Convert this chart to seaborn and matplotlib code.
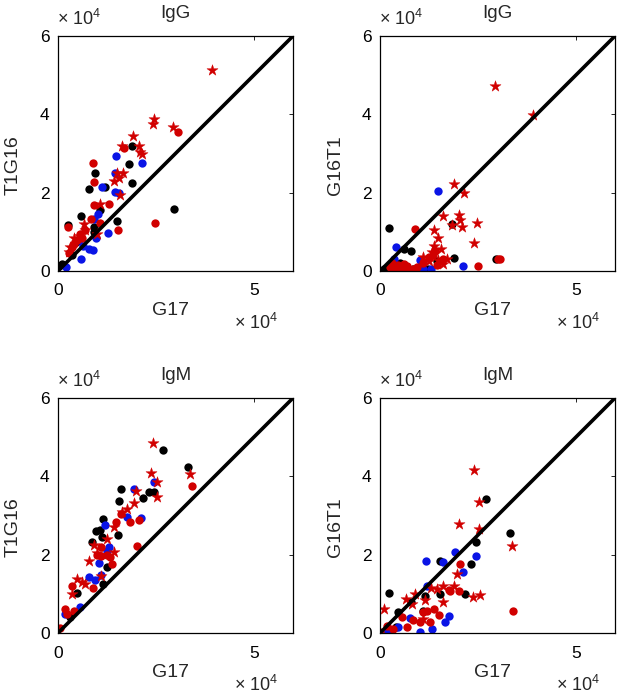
import numpy as np
import pandas as pd
import seaborn as sns
import matplotlib.pyplot as plt

# values in units of 1e4
# 1. IgG, T1G16 vs G17
p1_star_x = [3.94, 2.44, 2.42, 2.93, 1.91, 1.63, 2.06, 2.10, 2.14, 1.51, 1.65, 1.55, 1.59, 1.42, 1.08, 0.66, 0.40, 0.31, 0.27, 1.00, 0.55, 0.70]
p1_star_y = [5.14, 3.87, 3.76, 3.68, 3.45, 3.19, 3.19, 3.04, 2.98, 2.49, 2.49, 2.38, 1.93, 2.31, 1.70, 1.21, 0.83, 0.61, 0.48, 0.95, 0.90, 1.05]
p1_red_x = [3.07, 0.89, 1.68, 0.91, 0.92, 1.29, 0.25, 2.48, 1.53, 0.57, 0.70, 0.48, 0.27, 0.83, 1.08, 0.40, 0.62, 0.35]
p1_red_y = [3.55, 2.77, 3.14, 2.27, 1.68, 1.72, 1.12, 1.23, 1.04, 0.95, 1.04, 0.78, 0.45, 1.33, 1.22, 0.70, 0.85, 0.60]
p1_blk_x = [2.97, 1.81, 1.88, 0.95, 0.78, 1.21, 0.59, 1.51, 0.26, 0.91, 0.92, 0.02, 0.10, 1.89, 1.08, 0.45, 0.35]
p1_blk_y = [1.59, 2.74, 2.25, 2.49, 2.09, 2.14, 1.40, 1.27, 1.17, 1.12, 1.00, 0.14, 0.19, 3.20, 1.55, 0.75, 0.40]
p1_blu_x = [1.49, 2.14, 1.46, 1.45, 1.12, 1.01, 0.91, 1.27, 0.98, 0.89, 0.78, 0.59, 0.20, 0.53, 1.55, 0.65]
p1_blu_y = [2.93, 2.76, 2.50, 2.02, 2.14, 1.46, 1.33, 0.98, 0.84, 0.53, 0.57, 0.31, 0.10, 0.78, 2.00, 0.65]

# 2. IgG, G16T1 vs G17
p2_star_x = [2.94, 3.91, 1.89, 2.14, 1.62, 2.02, 2.04, 2.09, 2.47, 1.85, 1.38, 1.49, 2.40, 1.38, 1.57, 1.32, 1.11, 1.49, 1.62, 1.70, 1.25]
p2_star_y = [4.72, 3.99, 2.23, 2.00, 1.40, 1.44, 1.31, 1.12, 1.23, 1.17, 1.04, 0.85, 0.71, 0.63, 0.57, 0.49, 0.36, 0.27, 0.19, 0.30, 0.25]
p2_red_x = [0.89, 3.06, 3.00, 2.49, 0.25, 0.35, 0.45, 0.55, 0.70, 0.85, 0.95, 1.10, 1.35, 1.45, 1.60, 0.30, 0.60, 1.25, 1.40, 0.40, 0.75]
p2_red_y = [1.08, 0.31, 0.31, 0.14, 0.10, 0.05, 0.15, 0.08, 0.12, 0.05, 0.10, 0.20, 0.40, 0.15, 0.30, 0.20, 0.18, 0.35, 0.50, 0.00, 0.05]
p2_blk_x = [0.24, 1.83, 0.78, 0.61, 1.90, 2.95, 1.23, 0.10, 0.85, 0.50, 1.05, 1.45]
p2_blk_y = [1.10, 1.21, 0.51, 0.57, 0.34, 0.31, 0.06, 0.05, 0.05, 0.20, 0.10, 0.25]
p2_blu_x = [1.49, 0.41, 2.13, 1.02, 1.10, 0.35, 0.65, 1.30]
p2_blu_y = [2.04, 0.61, 0.14, 0.27, 0.06, 0.30, 0.10, 0.05]

# 3. IgM, T1G16 vs G17
p3_star_x = [2.42, 2.37, 3.38, 2.54, 2.54, 1.98, 1.94, 1.77, 1.64, 0.79, 1.43, 1.25, 0.92, 1.43, 0.61, 0.36, 0.48, 1.10, 1.00, 0.70]
p3_star_y = [4.85, 4.09, 4.05, 3.86, 3.48, 3.63, 3.33, 3.16, 3.08, 1.83, 2.70, 2.40, 2.24, 2.07, 1.30, 1.00, 1.38, 1.45, 2.05, 1.25]
p3_red_x = [3.41, 2.01, 1.38, 1.47, 1.84, 2.07, 1.00, 1.09, 1.26, 1.34, 0.90, 0.36, 0.19, 0.23, 0.40, 0.06, 1.10, 1.60]
p3_red_y = [3.75, 2.22, 1.77, 2.84, 2.84, 2.88, 2.00, 1.97, 2.00, 1.93, 1.15, 1.21, 0.61, 0.49, 0.57, 0.13, 2.20, 3.05]
p3_blk_x = [2.69, 3.33, 1.62, 1.55, 2.18, 2.33, 2.46, 1.15, 0.96, 1.08, 0.87, 1.13, 1.26, 1.54, 1.16, 0.49, 0.30]
p3_blk_y = [4.67, 4.23, 3.68, 3.38, 3.45, 3.60, 3.60, 2.91, 2.61, 2.63, 2.33, 2.45, 1.68, 2.49, 1.25, 1.02, 0.40]
p3_blu_x = [1.94, 2.46, 2.11, 1.77, 1.21, 1.30, 1.05, 0.79, 1.09, 0.55, 0.19, 1.25, 0.95]
p3_blu_y = [3.68, 3.85, 2.93, 2.97, 2.75, 2.19, 1.80, 1.43, 1.47, 0.66, 0.49, 2.10, 1.35]

# 4. IgM, G16T1 vs G17
p4_star_x = [2.41, 2.52, 2.01, 2.52, 3.37, 1.97, 2.56, 2.38, 1.88, 1.62, 1.45, 0.09, 0.66, 0.90, 0.81, 1.15, 1.62, 1.30, 1.10]
p4_star_y = [4.15, 3.35, 2.78, 2.65, 2.21, 1.51, 0.96, 0.93, 1.21, 1.21, 1.12, 0.61, 0.87, 1.00, 0.74, 0.83, 0.78, 1.15, 0.35]
p4_red_x = [3.40, 2.05, 2.01, 1.79, 0.85, 1.11, 1.28, 1.37, 1.03, 0.00, 0.17, 0.34, 1.50, 1.75, 1.20, 0.55, 0.70]
p4_red_y = [0.56, 1.77, 1.08, 1.08, 0.32, 0.53, 0.27, 0.62, 0.27, 0.03, 0.19, 0.10, 0.45, 1.10, 0.55, 0.40, 0.15]
p4_blk_x = [2.71, 3.33, 2.45, 2.33, 1.54, 2.18, 1.54, 1.15, 0.23, 0.47, 1.11, 0.80, 0.40]
p4_blk_y = [3.42, 2.56, 2.32, 1.75, 1.84, 1.00, 1.00, 0.94, 1.03, 0.53, 0.55, 0.80, 0.15]
p4_blu_x = [1.18, 1.91, 2.45, 2.12, 1.62, 0.77, 1.03, 1.32, 1.67, 1.76, 0.17, 0.45, 1.20]
p4_blu_y = [1.85, 2.07, 1.96, 1.56, 1.81, 0.38, 0.03, 0.10, 0.27, 0.43, 0.00, 0.15, 1.20]

panels = [
    ('IgG', 'T1G16', p1_blk_x, p1_blk_y, p1_blu_x, p1_blu_y, p1_red_x, p1_red_y, p1_star_x, p1_star_y),
    ('IgG', 'G16T1', p2_blk_x, p2_blk_y, p2_blu_x, p2_blu_y, p2_red_x, p2_red_y, p2_star_x, p2_star_y),
    ('IgM', 'T1G16', p3_blk_x, p3_blk_y, p3_blu_x, p3_blu_y, p3_red_x, p3_red_y, p3_star_x, p3_star_y),
    ('IgM', 'G16T1', p4_blk_x, p4_blk_y, p4_blu_x, p4_blu_y, p4_red_x, p4_red_y, p4_star_x, p4_star_y),
]

sns.set_style('white')
plt.rcParams['font.family'] = ['Liberation Sans', 'DejaVu Sans']
plt.rcParams['mathtext.fontset'] = 'custom'
plt.rcParams['mathtext.rm'] = 'Liberation Sans'

W, H = 617, 695
fig = plt.figure(figsize=(W / 100, H / 100), dpi=100)

# axes boxes in pixels: left, top
boxes = [(58, 36), (380, 36), (58, 398), (380, 398)]
size = 235

red = '#d10000'
blue = '#0a14e6'

for (title, ylab, bx, by, ux, uy, rx, ry, sx, sy), (l, t) in zip(panels, boxes):
    ax = fig.add_axes([l / W, 1 - (t + size) / H, size / W, size / H])
    sns.lineplot(x=[0, 6], y=[0, 6], color='black', lw=2.6, ax=ax)
    sns.scatterplot(x=bx, y=by, color='black', s=36, linewidth=0, ax=ax)
    sns.scatterplot(x=ux, y=uy, color=blue, s=36, linewidth=0, ax=ax)
    sns.scatterplot(x=rx, y=ry, color=red, s=36, linewidth=0, ax=ax)
    sns.scatterplot(x=sx, y=sy, color=red, s=70, marker='*', linewidth=0.3,
                    edgecolor=red, ax=ax)

    ax.set_xlim(0, 6)
    ax.set_ylim(0, 6)
    ax.set_xticks([0, 5])
    ax.set_xticklabels(['0', '5'])
    ax.set_yticks([0, 2, 4, 6])
    ax.set_yticklabels(['0', '2', '4', '6'])
    ax.tick_params(direction='in', length=3, width=0.6, top=True, right=True,
                   labelsize=12.5, colors='black')
    ax.tick_params(axis='x', pad=9)
    ax.tick_params(axis='y', pad=6)
    for sp in ax.spines.values():
        sp.set_visible(True)
        sp.set_color('black')
        sp.set_linewidth(0.9)
    ax.set_title(title, fontsize=13.5, pad=13)
    ax.set_xlabel('G17', fontsize=14)
    ax.set_ylabel(ylab, fontsize=14)
    ax.xaxis.set_label_coords(0.48, -0.13)
    ax.yaxis.set_label_coords(-0.155, 0.45)
    ax.text(-0.005, 1.03, '× 10$^4$', transform=ax.transAxes, fontsize=13,
            ha='left', va='bottom')
    ax.text(0.936, -0.245, '× 10$^4$', transform=ax.transAxes, fontsize=13,
            ha='right', va='baseline')

fig.savefig('out.png', dpi=100)
